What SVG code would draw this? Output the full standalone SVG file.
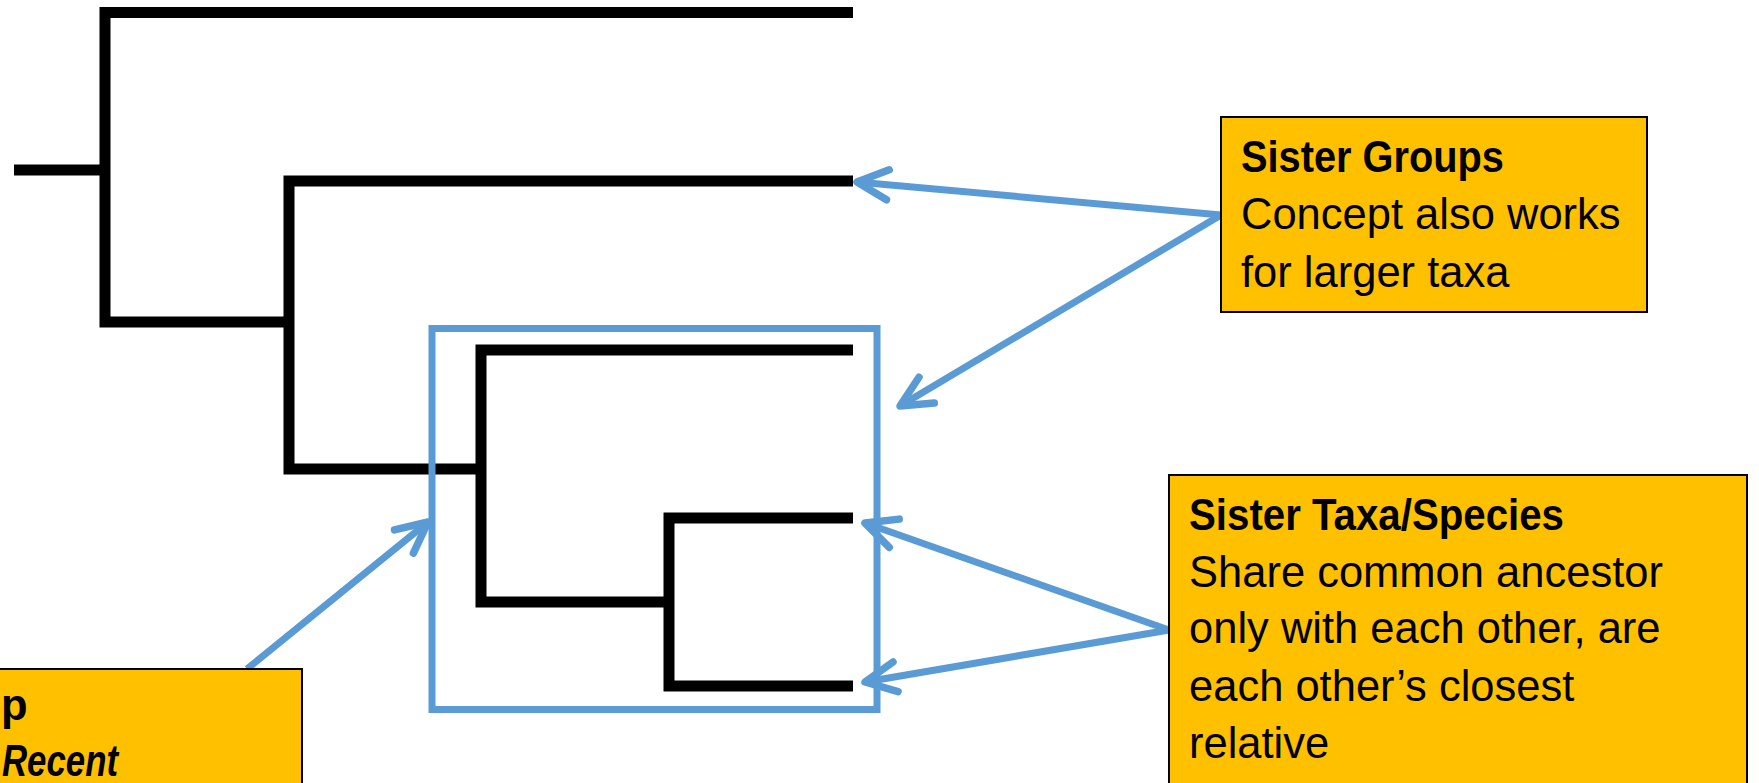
<svg xmlns="http://www.w3.org/2000/svg" width="1759" height="783" viewBox="0 0 1759 783">
  <style>
    .tree { fill: none; stroke: #000; stroke-width: 11; stroke-linejoin: miter; stroke-linecap: butt; }
    .blue { fill: none; stroke: #5B9BD5; stroke-width: 7; }
    .box { fill: #FFC000; stroke: #000; stroke-width: 2; }
    .t { font-family: "Liberation Sans", Arial, sans-serif; font-size: 43.5px; fill: #000; }
    .b { font-weight: bold; }
    .bi { font-weight: bold; font-style: italic; }
  </style>
  <defs>
    <marker id="arr" markerUnits="userSpaceOnUse" viewBox="-40 -25 50 50" refX="0" refY="0" markerWidth="50" markerHeight="50" orient="auto" overflow="visible">
      <path d="M -31 -15 L 0 0 L -31 15" fill="none" stroke="#5B9BD5" stroke-width="7.5" stroke-linecap="round" stroke-linejoin="round"/>
    </marker>
  </defs>

  <g id="tree">
    <path class="tree" d="M14 170 H106"/>
    <path class="tree" d="M853 12.5 H105 V322 H289"/>
    <path class="tree" d="M853 181 H289 V469 H482"/>
    <path class="tree" d="M853 350 H481 V602 H669"/>
    <path class="tree" d="M853 518 H669 V686 H853"/>
  </g>

  <g id="clade-box">
    <rect class="blue" x="432" y="328.5" width="445" height="381"/>
  </g>

  <g id="connectors">
    <line class="blue" x1="1221" y1="215" x2="857" y2="182" marker-end="url(#arr)"/>
    <line class="blue" x1="1221" y1="215" x2="900" y2="406" marker-end="url(#arr)"/>
    <line class="blue" x1="1169" y1="630" x2="865" y2="523" marker-end="url(#arr)"/>
    <line class="blue" x1="1169" y1="630" x2="865" y2="682" marker-end="url(#arr)"/>
    <line class="blue" x1="247" y1="669" x2="428" y2="522" marker-end="url(#arr)"/>
  </g>

  <g id="sister-groups">
    <rect class="box" x="1221" y="117" width="426" height="195"/>
    <text class="t b" x="1241" y="172" textLength="263" lengthAdjust="spacingAndGlyphs">Sister Groups</text>
    <text class="t" x="1241" y="229">Concept also works</text>
    <text class="t" x="1241" y="287">for larger taxa</text>
  </g>

  <g id="sister-taxa">
    <rect class="box" x="1169" y="475" width="578" height="320"/>
    <text class="t b" x="1189" y="530" textLength="375" lengthAdjust="spacingAndGlyphs">Sister Taxa/Species</text>
    <text class="t" x="1189" y="587">Share common ancestor</text>
    <text class="t" x="1189" y="643">only with each other, are</text>
    <text class="t" x="1189" y="701">each other’s closest</text>
    <text class="t" x="1189" y="758">relative</text>
  </g>

  <g id="left-box">
    <rect class="box" x="-10" y="669" width="312" height="130"/>
    <text class="t b" x="1" y="720">p</text>
    <text class="t bi" x="2" y="776" textLength="116" lengthAdjust="spacingAndGlyphs">Recent</text>
  </g>
</svg>
